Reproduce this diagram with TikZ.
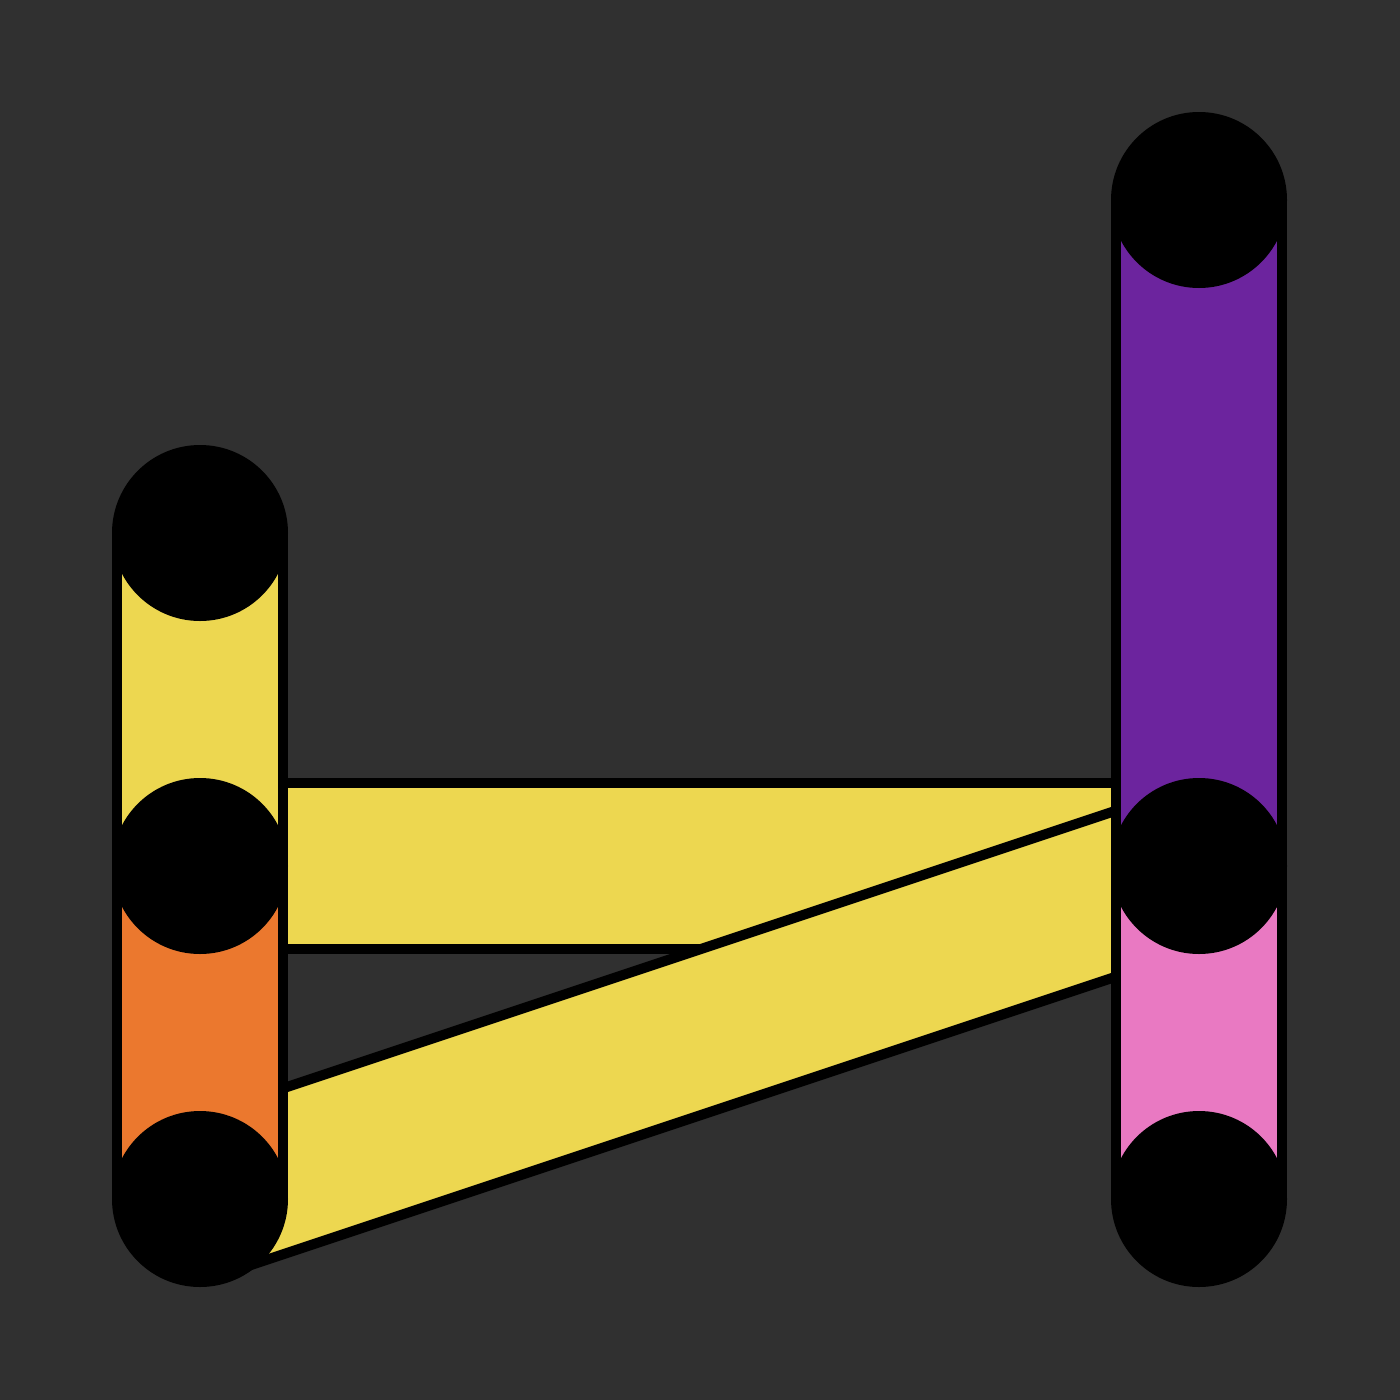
\documentclass[tikz,border=0pt]{standalone}
\usetikzlibrary{calc}
\definecolor{bg}{HTML}{303030}
\definecolor{yband}{HTML}{EDD750}
\definecolor{oband}{HTML}{EB782E}
\definecolor{pband}{HTML}{6C249E}
\definecolor{kband}{HTML}{E979C2}
\tikzset{
  band/.style={fill=yband, draw=black, line width=10pt, line join=bevel},
  barseg/.style={draw=black, line width=10pt, line join=miter},
  dot/.style={circle, fill=black, draw=none, minimum size=176pt, inner sep=0pt}
}
\begin{document}
\begin{tikzpicture}[x=1pt,y=-1pt]
\fill[bg] (0,0) rectangle (1400,1400);
\useasboundingbox (0,0) rectangle (1400,1400);
\coordinate (L1) at (200,533);
\coordinate (L2) at (200,866);
\coordinate (L3) at (200,1199);
\coordinate (R1) at (1199,200);
\coordinate (R2) at (1199,866);
\coordinate (R3) at (1199,1199);
% bands
\draw[band] ($(L2)+(0,-83)$) -- ($(R2)+(0,-83)$) -- ($(R2)+(0,83)$) -- ($(L2)+(0,83)$) -- cycle;
\draw[band] ($(L3)+(0,-83)$) -- ($(R2)+(0,-83)$) -- ($(R2)+(0,83)$) -- ($(L3)+(0,83)$) -- cycle;
% bars
\draw[barseg, fill=yband] ($(L1)+(-83,0)$) rectangle ($(L2)+(83,0)$);
\draw[barseg, fill=oband] ($(L2)+(-83,0)$) rectangle ($(L3)+(83,0)$);
\draw[barseg, fill=pband] ($(R1)+(-83,0)$) rectangle ($(R2)+(83,0)$);
\draw[barseg, fill=kband] ($(R2)+(-83,0)$) rectangle ($(R3)+(83,0)$);
% nodes
\node[dot] (nL1) at (L1) {};
\node[dot] (nL2) at (L2) {};
\node[dot] (nL3) at (L3) {};
\node[dot] (nR1) at (R1) {};
\node[dot] (nR2) at (R2) {};
\node[dot] (nR3) at (R3) {};
\end{tikzpicture}
\end{document}
